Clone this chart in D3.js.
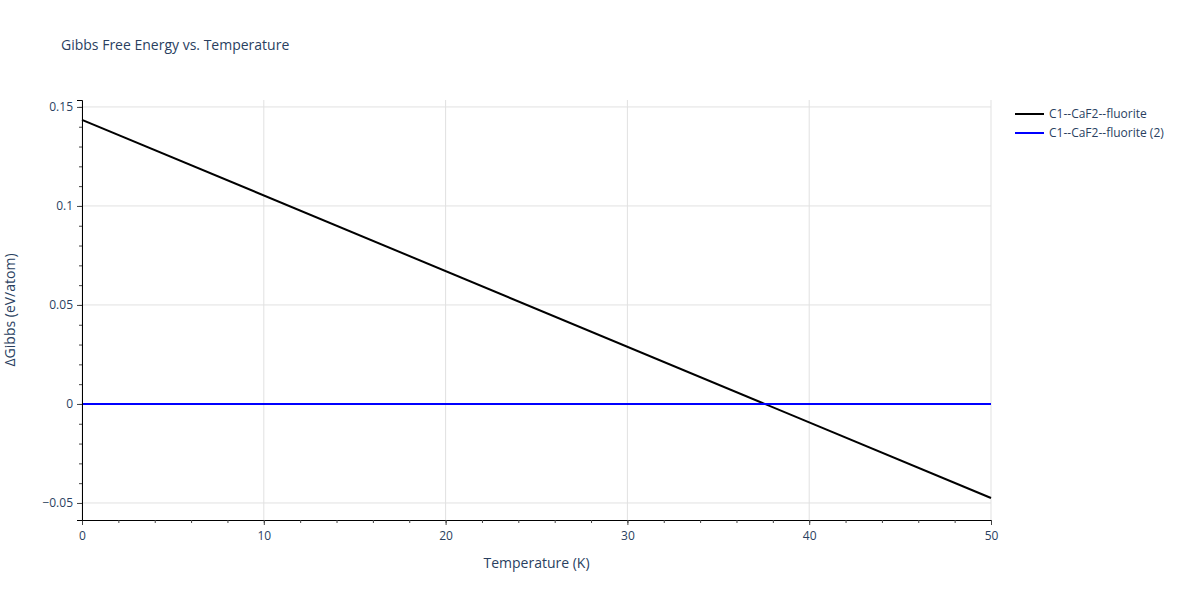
<!DOCTYPE html>
<html><head><meta charset="utf-8">
<script src="https://cdn.jsdelivr.net/npm/d3@7"></script>
<style>body{margin:0;background:#fff}text{font-family:"Open Sans",Arial,sans-serif}</style>
</head><body><svg id="c" width="1200" height="600"></svg>
<script>
const seriesNames = ["C1--CaF2--fluorite", "C1--CaF2--fluorite (2)"];
const seriesColors = ["#000000", "#0000ff"];
const temps = [0, 50];
const gibbs1 = [0.1435, -0.0475];
const gibbs2 = [0, 0];
const xTicks = [0, 10, 20, 30, 40, 50];
const yTicks = [-0.05, 0, 0.05, 0.1, 0.15];
const yTickLabels = ["−0.05", "0", "0.05", "0.1", "0.15"];

const svg = d3.select("#c");
const L = 82, R = 991, T = 100, B = 520;
const x = d3.scaleLinear().domain([0, 50]).range([L, R]);
const y = d3.scaleLinear().domain([-0.0586, 0.1535]).range([B, T]);
const txt = "#2a3f5f";

const g = svg.append("g");
xTicks.forEach(t => g.append("line").attr("x1", x(t)).attr("x2", x(t)).attr("y1", T).attr("y2", B).attr("stroke", "#e1e1e1"));
yTicks.forEach(t => g.append("line").attr("x1", L).attr("x2", R).attr("y1", y(t)).attr("y2", y(t)).attr("stroke", "#e1e1e1"));

const line = d3.line().x(d => x(d[0])).y(d => y(d[1]));
[gibbs1, gibbs2].forEach((s, i) => {
  svg.append("path").datum(temps.map((t, j) => [t, s[j]])).attr("d", line)
    .attr("fill", "none").attr("stroke", seriesColors[i]).attr("stroke-width", 2);
});

const xa = svg.append("g").attr("transform", `translate(0,${B})`)
  .call(d3.axisBottom(x).tickValues(xTicks).tickSize(5).tickPadding(6).tickFormat(d3.format("d")));
const xm = svg.append("g").attr("transform", `translate(0,${B})`)
  .call(d3.axisBottom(x).tickValues(d3.range(0, 51, 2)).tickSize(3).tickFormat(""));
xm.select(".domain").remove();
const ya = svg.append("g").attr("transform", `translate(${L},0)`)
  .call(d3.axisLeft(y).tickValues(yTicks).tickSize(5).tickPadding(4).tickFormat((d, i) => yTickLabels[i]));
const ym = svg.append("g").attr("transform", `translate(${L},0)`)
  .call(d3.axisLeft(y).tickValues(d3.range(-0.05, 0.151, 0.01)).tickSize(3).tickFormat(""));
ym.select(".domain").remove();
svg.selectAll(".domain").attr("stroke", "#000");
svg.selectAll(".tick line").attr("stroke", "#444");
svg.selectAll(".tick text").attr("fill", txt).style("font-size", "12px").attr("font-family", '"Open Sans",Arial,sans-serif');

svg.append("text").attr("x", 61).attr("y", 50).text("Gibbs Free Energy vs. Temperature").attr("fill", txt).style("font-size", "14px");
svg.append("text").attr("x", (L + R) / 2).attr("y", 568).attr("text-anchor", "middle").text("Temperature (K)").attr("fill", txt).style("font-size", "14px");
svg.append("text").attr("transform", `translate(15,${(T + B) / 2}) rotate(-90)`).attr("text-anchor", "middle").text("ΔGibbs (eV/atom)").attr("fill", txt).style("font-size", "14px");

seriesNames.forEach((n, i) => {
  const yy = 114 + i * 19;
  svg.append("line").attr("x1", 1015).attr("x2", 1044).attr("y1", yy).attr("y2", yy).attr("stroke", seriesColors[i]).attr("stroke-width", 2);
  svg.append("text").attr("x", 1049).attr("y", yy + 4).text(n).attr("fill", txt).style("font-size", "12px");
});
</script></body></html>
